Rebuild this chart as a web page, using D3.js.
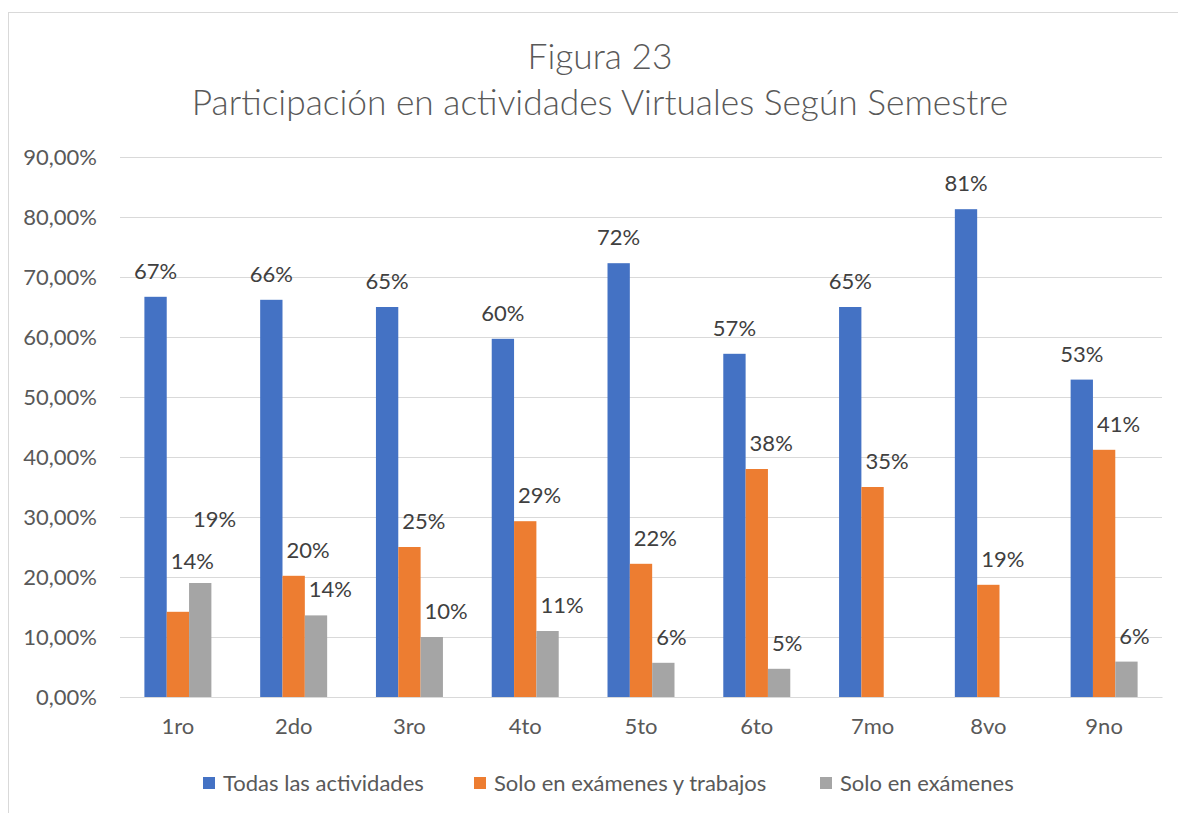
<!DOCTYPE html>
<html>
<head>
<meta charset="utf-8">
<script src="https://cdn.jsdelivr.net/npm/d3@7"></script>
<style>
  body { margin: 0; background: #fff; }
  text { font-family: Lato, "Open Sans", sans-serif; }
</style>
</head>
<body>
<script>
var width = 1178,
    height = 813;

// data
var semestres = ["1ro", "2do", "3ro", "4to", "5to", "6to", "7mo", "8vo", "9no"];
var series = ["Todas las actividades", "Solo en exámenes y trabajos", "Solo en exámenes"];
var todas = [0.667, 0.662, 0.650, 0.597, 0.723, 0.572, 0.650, 0.813, 0.529];
var examTrab = [0.142, 0.202, 0.250, 0.293, 0.222, 0.380, 0.350, 0.187, 0.412];
var soloExam = [0.190, 0.136, 0.100, 0.110, 0.057, 0.047, null, null, 0.059];
var yTicks = [0, 0.1, 0.2, 0.3, 0.4, 0.5, 0.6, 0.7, 0.8, 0.9];
var colors = ["#4472C4", "#ED7D31", "#A5A5A5"];

var values = [todas, examTrab, soloExam];

var locale = d3.formatLocale({decimal: ",", thousands: ".", grouping: [3], currency: ["", "€"], percent: "%"});
var tickFmt = locale.format(".2%"),
    labelFmt = locale.format(".0%");

var fs = 22;

var svg = d3.select("body").append("svg")
    .attr("width", width)
    .attr("height", height);

svg.append("rect")
    .attr("width", width).attr("height", height)
    .attr("fill", "#fff");

// chart border (runs off the right and bottom edges)
svg.append("rect")
    .attr("x", 8.5).attr("y", 12.5)
    .attr("width", 1200).attr("height", 900)
    .attr("fill", "none")
    .attr("stroke", "#D9D9D9");

var plotL = 120, plotR = 1162, plotT = 157, plotB = 697;

var y = d3.scaleLinear().domain([0, 0.9]).range([plotB, plotT]);
var x0 = d3.scaleBand().domain(semestres).range([plotL, plotR])
    .paddingInner(0.4214).paddingOuter(0.2107);
var x1 = d3.scaleBand().domain(series).range([0, x0.bandwidth()]);

// title
var title = svg.append("g").attr("fill", "#595959").attr("text-anchor", "middle")
    .attr("font-weight", 300);
title.append("text").attr("x", 600).attr("y", 69).attr("font-size", 35.3).text("Figura 23");
title.append("text").attr("x", 600).attr("y", 115).attr("font-size", 35.3)
    .text("Participación en actividades Virtuales Según Semestre");

// y axis + gridlines
var yAxis = svg.append("g")
    .attr("transform", "translate(" + plotL + ",0)")
    .call(d3.axisLeft(y).tickValues(yTicks).tickFormat(tickFmt)
      .tickSize(-(plotR - plotL)).tickPadding(23));
yAxis.select(".domain").remove();
yAxis.selectAll("line").attr("stroke", "#D9D9D9");
yAxis.selectAll("text").attr("fill", "#595959").attr("font-size", fs)
    .attr("font-family", "Lato, sans-serif");

// x axis
var xAxis = svg.append("g")
    .attr("transform", "translate(0," + plotB + ")")
    .call(d3.axisBottom(x0).tickSize(0).tickSizeOuter(0).tickPadding(21));
xAxis.select(".domain").attr("stroke", "#D9D9D9");
xAxis.selectAll("text").attr("fill", "#595959").attr("font-size", fs)
    .attr("font-family", "Lato, sans-serif");

// bars
var rows = [];
semestres.forEach(function(s, i) {
  series.forEach(function(name, j) {
    rows.push({sem: s, name: name, j: j, v: values[j][i]});
  });
});
rows = rows.filter(function(d) { return d.v != null; });

svg.append("g").selectAll("rect")
    .data(rows)
  .enter().append("rect")
    .attr("x", function(d) { return x0(d.sem) + x1(d.name); })
    .attr("y", function(d) { return y(d.v); })
    .attr("width", x1.bandwidth())
    .attr("height", function(d) { return y(0) - y(d.v); })
    .attr("fill", function(d) { return colors[d.j]; });

// data labels
var labels = svg.append("g").selectAll("text")
    .data(rows)
  .enter().append("text")
    .attr("x", function(d) {
      var bx = x0(d.sem) + x1(d.name);
      return d.j == 0 ? bx + x1.bandwidth() / 2 : bx + 4;
    })
    .attr("y", function(d) { return y(d.v) - 18; })
    .attr("text-anchor", function(d) { return d.j == 0 ? "middle" : "start"; })
    .attr("font-size", fs)
    .attr("fill", "#404040")
    .text(function(d) { return labelFmt(d.v); });

// push labels up when they run into a neighbouring bar or label
var placed = [];
labels.each(function(d) {
  var el = d3.select(this), b = this.getBBox();
  var cy = parseFloat(el.attr("y"));
  rows.forEach(function(r) {
    if (r.sem != d.sem || r.j <= d.j) return;
    var rx = x0(r.sem) + x1(r.name);
    if (b.x + b.width > rx + 2 && b.x < rx + x1.bandwidth()) {
      cy = Math.min(cy, y(r.v) - 14);
    }
  });
  placed.forEach(function(p) {
    if (p.sem != d.sem) return;
    var ox = b.x < p.x + p.w && b.x + b.width > p.x;
    if (ox && Math.abs(cy - p.y) < 24) cy = p.y - 42;
  });
  el.attr("y", cy);
  placed.push({sem: d.sem, x: b.x, w: b.width, y: cy});
});

// legend
var legendX = [203, 474, 820];
var legend = svg.append("g").selectAll("g")
    .data(series)
  .enter().append("g")
    .attr("transform", function(d, i) { return "translate(" + legendX[i] + ",783)"; });
legend.append("rect")
    .attr("x", 0).attr("y", -6)
    .attr("width", 12).attr("height", 12)
    .attr("fill", function(d, i) { return colors[i]; });
legend.append("text")
    .attr("x", 20).attr("y", 8)
    .attr("font-size", fs)
    .attr("fill", "#595959")
    .text(function(d) { return d; });
</script>
</body>
</html>
